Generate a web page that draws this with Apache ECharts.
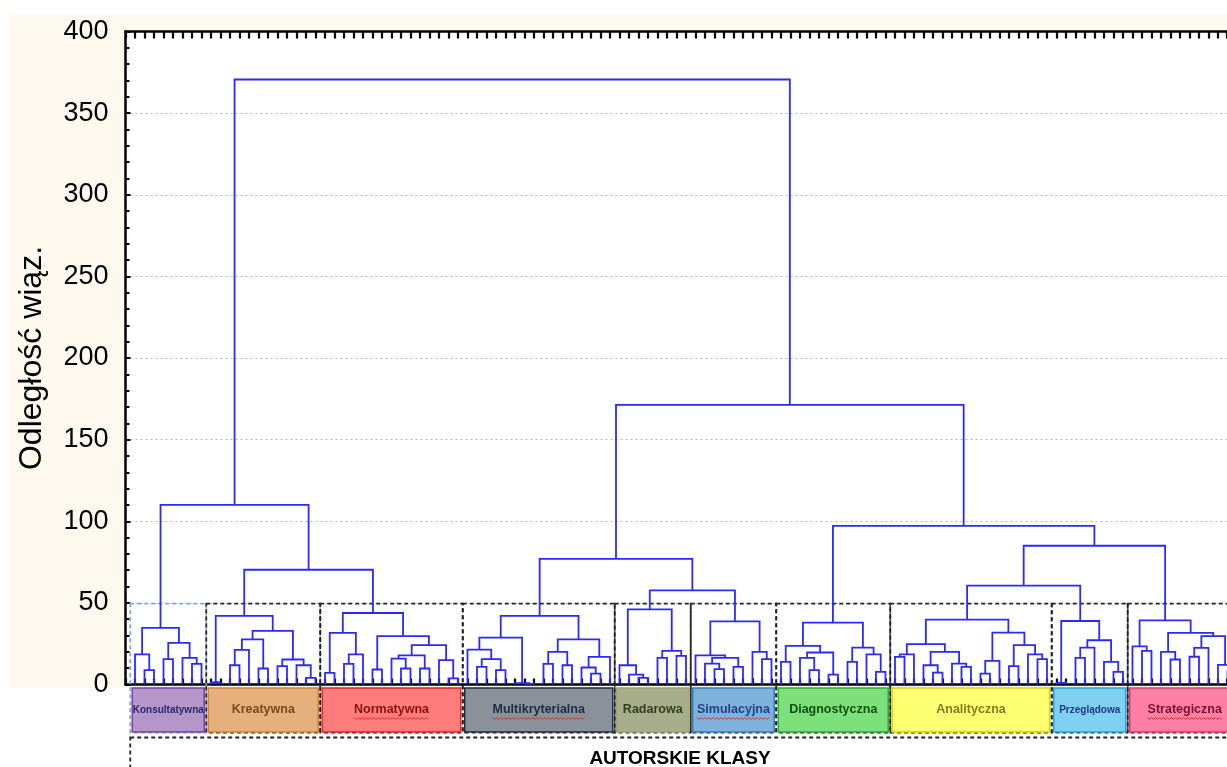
<!DOCTYPE html>
<html lang="pl">
<head>
<meta charset="UTF-8">
<title>Dendrogram - autorskie klasy</title>
<script src="https://cdn.jsdelivr.net/npm/echarts@6/dist/echarts.min.js"></script>
<style>
  html, body { margin: 0; padding: 0; background: #fff; }
  #main { width: 1227px; height: 767px; }
</style>
</head>
<body>
<div id="main"></div>
<script>
// poddrzewa klas: [odległość wiązania, lewe, prawe], 0 = liść
const konsultatywna = [34.7, [18.5, 0, [8.8, 0, 0]], [25.5, [15.5, 0, 0], [16.3, 0, [12.6, 0, 0]]]];
const kreatywna = [42, [1.5, 0, 0], [32.8, [27.7, [21.2, [11.8, 0, 0], 0], [9.8, 0, 0]], [15.3, [11.2, 0, 0], [11.8, 0, [4.1, 0, 0]]]]];
const normatywna = [43.8, [31.6, [7.1, 0, 0], [18.5, [12.6, 0, 0], 0]], [29.6, [9.2, 0, 0], [24.1, [17.9, [15.9, 0, [9.8, 0, 0]], [9.8, 0, 0]], [14.9, 0, [3.7, 0, 0]]]]];
const multikryterialna = [42, [28.7, [21.4, 0, [15.5, [10.8, 0, 0], [8.8, 0, 0]]], [0.8, 0, [0.4, 0, 0]]], [27.7, [20, [12.6, 0, 0], [11.8, 0, 0]], [16.9, [10.4, 0, [6.7, 0, 0]], 0]]];
const radarowa = [46, [11.8, 0, [6.1, 0, [4.1, 0, 0]]], [20.6, [16.3, 0, 0], [17.5, 0, 0]]];
const simulacyjna = [38.7, [17.9, 0, [16.3, [12.8, 0, [9.4, 0, 0]], [10.8, 0, 0]]], [20, 0, [15.5, 0, 0]]];
const diagnostyczna = [37.9, [23.6, [13.9, 0, 0], [19.6, [16.3, 0, [8.8, 0, 0]], [6.1, 0, 0]]], [22.6, [13.9, 0, 0], [18.5, 0, [7.7, 0, 0]]]];
const analityczna = [39.8, [24.7, [18.5, [16.9, 0, 0], 0], [20, [11.8, 0, [7.3, 0, 0]], [12.8, 0, [10.8, 0, 0]]]], [31.8, [14.5, [6.7, 0, 0], 0], [24.1, [11.2, 0, 0], [18.5, 0, [15.5, 0, 0]]]]];
const przegladowa = [38.9, [1, 0, 0], [27.1, [22.6, [16.3, 0, 0], 0], [13.9, 0, [7.7, 0, 0]]]];
const strategiczna = [39.3, [23.4, 0, [20.6, 0, 0]], [31.6, [20, 0, [15.3, 0, 0]], [29.6, [22.4, [17, 0, 0], 0], [12, 0, [8, 0, 0]]]]];

// wiązania między klasami
const classJoins = [370.6,
  [110, 'Konsultatywna', [70.3, 'Kreatywna', 'Normatywna']],
  [171.3,
    [77, 'Multikryterialna', [57.7, 'Radarowa', 'Simulacyjna']],
    [97.2, 'Diagnostyczna', [85, [60.6, 'Analityczna', 'Przeglądowa'], 'Strategiczna']]]];

const classNames = ['Konsultatywna', 'Kreatywna', 'Normatywna', 'Multikryterialna', 'Radarowa',
  'Simulacyjna', 'Diagnostyczna', 'Analityczna', 'Przeglądowa', 'Strategiczna'];
const classTrees = [konsultatywna, kreatywna, normatywna, multikryterialna, radarowa,
  simulacyjna, diagnostyczna, analityczna, przegladowa, strategiczna];

const yTicks = [0, 50, 100, 150, 200, 250, 300, 350, 400];
const boxTop = 49.5;
// widoczny fragment osi x (wykres jest ucięty z prawej strony)
const xVisibleMax = 114.95;

// wygląd etykiet klas
const classFill = ['#b596c9', '#e5b07b', '#ff7d7d', '#899299', '#a6ae8b', '#80b3dc', '#7ee07b', '#ffff72', '#80d1f1', '#ff80a7'];
const classBorder = ['#7a3ca8', '#d9802b', '#e52222', '#1e2b48', '#9aa66e', '#2f7fc4', '#22b522', '#e6cf00', '#1ca6de', '#e6336e'];
const classText = ['#2c2470', '#7a4a1a', '#8a1010', '#1e2b48', '#3a3a20', '#1f3f8a', '#0f4f0f', '#8a7a20', '#1a3a7a', '#7a1030'];
const classFont = [10, 12.5, 12.5, 12.5, 12.5, 12.5, 12.5, 12.5, 10, 12.5];
const spellMark = [false, false, true, true, false, true, false, false, false, true];

// rozwinięcie drzewa: kolejne liście dostają kolejne pozycje osi x
let leafCount = 0;
const links = [];
const ranges = [];
function walk(node) {
  if (typeof node === 'string') {
    const k = classNames.indexOf(node);
    const start = leafCount;
    const r = walk(classTrees[k]);
    ranges.push([start, leafCount - 1, 0, k]);
    return r;
  }
  if (!Array.isArray(node)) {
    return { x: leafCount++, h: 0 };
  }
  const a = walk(node[1]);
  const b = walk(node[2]);
  links.push([a.x, a.h, b.x, b.h, node[0]]);
  return { x: (a.x + b.x) / 2, h: node[0] };
}
walk(classJoins);

const chart = echarts.init(document.getElementById('main'));
const font = '"Liberation Sans", Arial, sans-serif';
const measure = document.createElement('canvas').getContext('2d');

function squiggle(cx, y, w) {
  const pts = [];
  for (let x = cx - w / 2, i = 0; x <= cx + w / 2; x += 2, i++) {
    pts.push([x, y + (i % 2 ? 1 : -1)]);
  }
  return pts;
}

const xCommon = {
  type: 'value',
  min: -1,
  max: xVisibleMax,
  interval: 1,
  axisLabel: { show: false },
  splitLine: { show: false },
  axisLine: { onZero: false, lineStyle: { color: '#000', width: 2.5 } }
};

const option = {
  backgroundColor: '#fff',
  animation: false,
  graphic: [{
    type: 'rect', z: -10, silent: true,
    shape: { x: 10, y: 14, width: 1217, height: 674 },
    style: { fill: '#fdf9ee' }
  }],
  grid: {
    left: 125.5, top: 31.5, bottom: 82.5, right: 0,
    show: true, backgroundColor: '#fff', borderWidth: 0
  },
  xAxis: [
    Object.assign({}, xCommon, {
      position: 'bottom',
      axisTick: { inside: true, length: 6, lineStyle: { color: '#000', width: 2.2 } }
    }),
    Object.assign({}, xCommon, {
      position: 'top',
      axisTick: { inside: true, length: 7, lineStyle: { color: '#000', width: 2.2 } }
    })
  ],
  yAxis: {
    type: 'value',
    min: yTicks[0],
    max: yTicks[yTicks.length - 1],
    interval: 50,
    name: 'Odległość wiąz.',
    nameLocation: 'middle',
    nameRotate: 90,
    nameGap: 77,
    nameTextStyle: { fontFamily: font, fontSize: 32, color: '#000' },
    axisLine: { show: true, onZero: false, lineStyle: { color: '#000', width: 2.5 } },
    axisTick: { show: true, inside: true, length: 5, lineStyle: { color: '#000', width: 2 } },
    minorTick: { show: true, splitNumber: 5, length: 4, lineStyle: { color: '#000', width: 2 } },
    axisLabel: { fontFamily: font, fontSize: 27, color: '#000', margin: 17 },
    splitLine: { show: true, lineStyle: { color: '#b8b8b8', type: [2, 3], width: 1 } }
  },
  series: [
    {
      // ramki klas i etykiety pod osią
      type: 'custom',
      xAxisIndex: 0, yAxisIndex: 0,
      clip: false,
      z: 1,
      encode: { x: [0, 1], y: 2 },
      data: ranges,
      renderItem: function (params, api) {
        const k = api.value(3);
        const x0 = api.coord([api.value(0) - 0.5, 0])[0];
        const x1 = api.coord([api.value(1) + 0.5, 0])[0];
        const yT = api.coord([0, boxTop])[1];
        const y0 = api.coord([0, 0])[1];
        const f = 'bold ' + classFont[k] + 'px ' + font;
        const children = [
          {
            type: 'rect',
            shape: { x: x0, y: yT, width: x1 - x0, height: y0 + 48 - yT },
            style: { fill: null, stroke: k === 0 ? '#7fa6d8' : '#222', lineWidth: 1.8, lineDash: [4, 3] }
          },
          {
            type: 'rect',
            shape: { x: x0 + 2, y: y0 + 3.5, width: x1 - x0 - 4, height: 44 },
            style: { fill: classFill[k], stroke: classBorder[k], lineWidth: 1.5 }
          },
          {
            type: 'text',
            style: {
              text: classNames[k], x: (x0 + x1) / 2, y: y0 + 25.5,
              align: 'center', verticalAlign: 'middle',
              fill: classText[k], font: f
            }
          }
        ];
        if (spellMark[k]) {
          measure.font = f;
          const w = measure.measureText(classNames[k]).width;
          children.push({
            type: 'polyline',
            shape: { points: squiggle((x0 + x1) / 2, y0 + 34, w) },
            style: { fill: null, stroke: '#e02a2a', lineWidth: 1 }
          });
        }
        return { type: 'group', children: children };
      }
    },
    {
      // ramka "AUTORSKIE KLASY"
      type: 'custom',
      xAxisIndex: 0, yAxisIndex: 0,
      clip: false,
      z: 1,
      encode: { x: [0, 1], y: 2 },
      data: [[-0.5, leafCount - 0.5, 0]],
      renderItem: function (params, api) {
        const x0 = api.coord([api.value(0), 0])[0];
        const x1 = api.coord([api.value(1), 0])[0];
        const y0 = api.coord([0, 0])[1];
        return {
          type: 'group',
          children: [
            {
              type: 'rect',
              shape: { x: x0, y: y0 + 53, width: x1 - x0, height: 80 },
              style: { fill: null, stroke: '#222', lineWidth: 1.8, lineDash: [4, 3] }
            },
            {
              type: 'text',
              style: {
                text: 'AUTORSKIE KLASY', x: (x0 + x1) / 2 - 6, y: y0 + 74,
                align: 'center', verticalAlign: 'middle',
                fill: '#000', font: 'bold 19px ' + font
              }
            }
          ]
        };
      }
    },
    {
      // dendrogram
      type: 'custom',
      xAxisIndex: 0, yAxisIndex: 0,
      clip: false,
      z: 3,
      encode: { x: [0, 2], y: [1, 3, 4] },
      data: links,
      renderItem: function (params, api) {
        const xa = api.value(0), ha = api.value(1), xb = api.value(2), hb = api.value(3), h = api.value(4);
        return {
          type: 'polyline',
          shape: { points: [api.coord([xa, ha]), api.coord([xa, h]), api.coord([xb, h]), api.coord([xb, hb])] },
          style: { fill: null, stroke: '#2a2aff', lineWidth: 1.8 }
        };
      }
    }
  ]
};

chart.setOption(option);
</script>
</body>
</html>
